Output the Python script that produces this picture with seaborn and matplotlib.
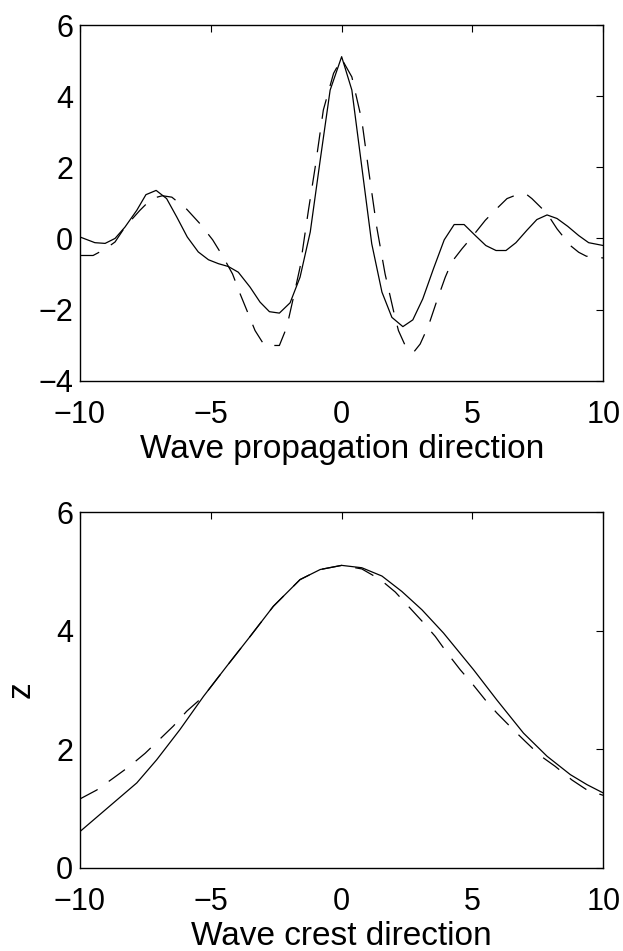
import numpy as np
import matplotlib
matplotlib.use("Agg")
import matplotlib.pyplot as plt
import seaborn as sns

# top panel: section along the wave propagation direction
prop_x_solid = [-10.0, -9.43, -9.04, -8.66, -8.28, -7.83, -7.48, -7.09, -6.69, -6.30,
                -5.90, -5.48, -5.09, -4.71, -4.33, -3.95, -3.50, -3.12, -2.76, -2.38,
                -1.97, -1.59, -1.20, -0.82, -0.44, 0.0, 0.39, 0.77, 1.15, 1.54,
                1.92, 2.34, 2.72, 3.10, 3.51, 3.92, 4.30, 4.68, 5.11, 5.51,
                5.90, 6.28, 6.66, 7.08, 7.46, 7.85, 8.23, 8.64, 9.06, 9.44, 10.0]
prop_z_solid = [0.04, -0.12, -0.14, 0.0, 0.32, 0.79, 1.23, 1.35, 1.12, 0.60,
                0.04, -0.38, -0.60, -0.71, -0.79, -0.95, -1.37, -1.79, -2.06, -2.10,
                -1.81, -1.09, 0.18, 2.20, 4.17, 5.11, 4.17, 2.01, -0.15, -1.51,
                -2.22, -2.48, -2.29, -1.70, -0.85, -0.04, 0.39, 0.39, 0.08, -0.20,
                -0.34, -0.34, -0.12, 0.23, 0.53, 0.66, 0.56, 0.34, 0.08, -0.12, -0.20]

prop_x_dash = [-10.0, -9.5, -9.04, -8.66, -8.28, -7.71, -7.26, -6.85, -6.49, -5.92,
               -5.41, -4.93, -4.52, -4.17, -3.88, -3.63, -3.31, -2.95, -2.38, -2.10,
               -1.87, -1.59, -1.27, -1.01, -0.70, -0.31, 0.0, 0.39, 0.77, 1.03,
               1.34, 1.66, 1.98, 2.17, 2.47, 2.75, 3.0, 3.32, 3.64, 3.96,
               4.21, 4.60, 4.98, 5.49, 5.93, 6.32, 6.70, 7.08, 7.27, 7.85,
               8.23, 8.74, 9.06, 9.35, 10.0]
prop_z_dash = [-0.48, -0.48, -0.30, -0.10, 0.32, 0.79, 1.12, 1.20, 1.16, 0.82,
               0.41, -0.04, -0.53, -1.00, -1.56, -2.01, -2.59, -3.01, -3.01, -2.50,
               -1.75, -0.81, 0.79, 2.01, 3.61, 4.64, 5.05, 4.54, 3.32, 1.92,
               0.32, -1.00, -2.03, -2.59, -3.08, -3.20, -2.97, -2.45, -1.75, -1.09,
               -0.66, -0.29, 0.04, 0.51, 0.84, 1.12, 1.23, 1.23, 1.12, 0.70,
               0.27, -0.20, -0.39, -0.50, -0.55]

# bottom panel: section along the wave crest direction
crest_x_solid = [-10.0, -8.73, -7.83, -7.07, -6.18, -5.28, -4.39, -3.50, -2.61, -1.59,
                 -0.82, 0.0, 0.77, 1.54, 2.30, 3.07, 3.89, 5.04, 5.93, 6.95,
                 7.85, 8.74, 9.38, 10.0]
crest_z_solid = [0.61, 1.09, 1.43, 1.82, 2.33, 2.89, 3.40, 3.90, 4.41, 4.86,
                 5.03, 5.10, 5.06, 4.92, 4.66, 4.35, 3.96, 3.34, 2.83, 2.27,
                 1.88, 1.57, 1.40, 1.26]

crest_x_dash = [-10.0, -9.36, -8.73, -8.11, -7.51, -6.97, -6.43, -5.92, -5.28, -4.39,
                -3.50, -2.61, -1.59, -0.82, 0.0, 0.77, 1.48, 2.05, 2.55, 3.07,
                3.58, 4.02, 4.53, 4.98, 5.49, 5.93, 6.51, 7.02, 7.59, 8.16,
                8.80, 9.38, 10.0]
crest_z_dash = [1.16, 1.31, 1.51, 1.71, 1.93, 2.16, 2.39, 2.64, 2.89, 3.40,
                3.90, 4.41, 4.86, 5.03, 5.10, 5.04, 4.86, 4.65, 4.41, 4.16,
                3.90, 3.63, 3.34, 3.11, 2.83, 2.61, 2.35, 2.13, 1.89, 1.71,
                1.48, 1.31, 1.22]

sns.set_style("white")
plt.rcParams['font.family'] = ['Liberation Sans', 'DejaVu Sans']
plt.rcParams['axes.unicode_minus'] = True
plt.rcParams['axes.labelcolor'] = "k"
plt.rcParams['text.color'] = "k"

fig = plt.figure(figsize=(6.23, 9.51), dpi=100)
ax1 = fig.add_axes([0.1284, 0.5997, 0.840, 0.374])
ax2 = fig.add_axes([0.1284, 0.0876, 0.840, 0.374])

lw = 0.9
dash = (16, 11)
for ax, xs, zs, xd, zd in [(ax1, prop_x_solid, prop_z_solid, prop_x_dash, prop_z_dash),
                           (ax2, crest_x_solid, crest_z_solid, crest_x_dash, crest_z_dash)]:
    sns.lineplot(x=xs, y=zs, sort=False, estimator=None, color="k", linewidth=lw, ax=ax)
    sns.lineplot(x=xd, y=zd, sort=False, estimator=None, color="k", linewidth=lw, ax=ax)
    ax.lines[-1].set_dashes(dash)
    ax.set_xlim(-10, 10)
    ax.set_xticks([-10, -5, 0, 5, 10])
    for s in ax.spines.values():
        s.set_color("k")
        s.set_linewidth(1.0)
    ax.tick_params(direction="in", length=5, width=0.8, top=True, right=True,
                   labelsize=22, colors="k")
    ax.tick_params(axis="x", pad=14)
    ax.tick_params(axis="y", pad=5)

ax1.set_ylim(-4, 6)
ax1.set_yticks([-4, -2, 0, 2, 4, 6])
ax1.set_xlabel("Wave propagation direction", fontsize=24, labelpad=3)

ax2.set_ylim(0, 6)
ax2.set_yticks([0, 2, 4, 6])
ax2.set_xlabel("Wave crest direction", fontsize=24, labelpad=3)
ax2.set_ylabel("z", fontsize=24, labelpad=14)

fig.savefig("out.png", dpi=100, facecolor="white")
